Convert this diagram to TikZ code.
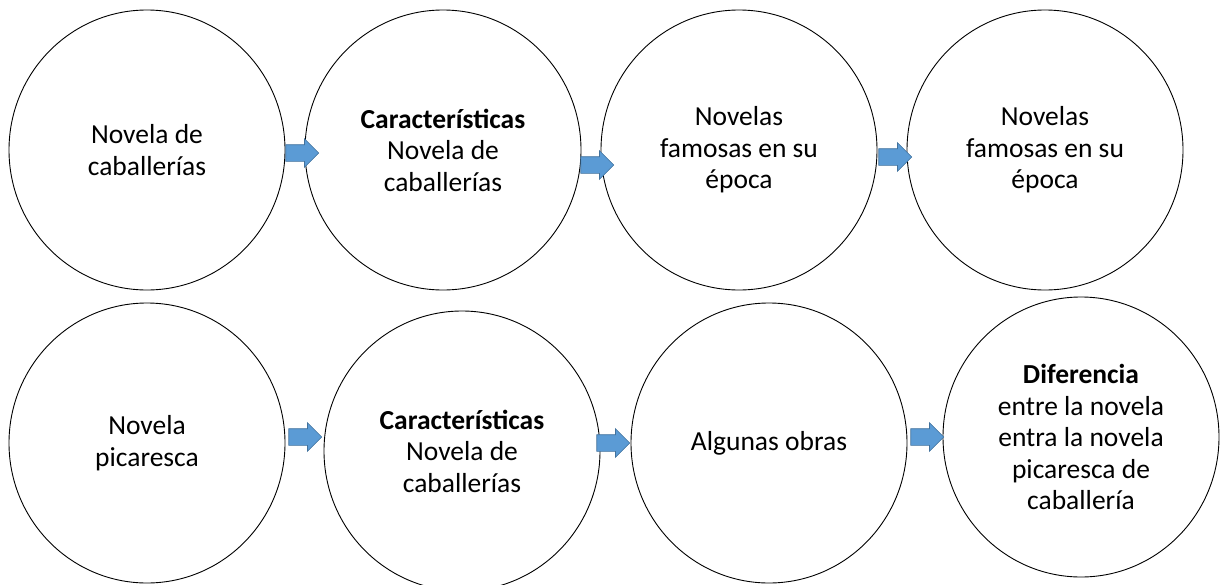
\documentclass[tikz,border=0pt]{standalone}
\usepackage{fontspec}
\setmainfont{Carlito}
\usetikzlibrary{shapes.geometric, shapes.arrows, calc}

\definecolor{flechaazul}{HTML}{5B9BD5}
\definecolor{bordeazul}{HTML}{41719C}

\begin{document}
\begin{tikzpicture}[%
        x = 1pt, y = -1pt,
        bola/.style = {%
            ellipse, draw, line width = 0.9pt,
            minimum width = 276pt, minimum height = 280pt,
            inner sep = 0pt, align = center,
            font = \fontsize{27.5}{31.5}\selectfont
        },
        flecha/.style = {%
            single arrow, draw = bordeazul, fill = flechaazul,
            line width = 0.6pt, inner xsep = 0pt, inner ysep = 8pt,
            minimum height = 33pt,
            single arrow head extend = 6pt, anchor = tail
        }
    ]

        % Fix the page to the size of the reference.
        \useasboundingbox (0,0) rectangle (1224,584);

        % Upper row of ellipses.
        \node[bola] (cab)   at (147,150)  {Novela de\\caballerías};
        \node[bola] (carA)  at (443,150)  {\textbf{Características}\\Novela de\\caballerías};
        \node[bola] (famA)  at (739,150)  {Novelas\\famosas en su\\época};
        \node[bola] (famB)  at (1045,150) {Novelas\\famosas en su\\época};

        % Lower row of ellipses.
        \node[bola] (pic)   at (147,443)  {Novela\\picaresca};
        \node[bola] (carB)  at (462,451)  {\textbf{Características}\\Novela de\\caballerías};
        \node[bola] (obras) at (769,443)  {Algunas obras};
        \node[bola] (dif)   at (1081,437) {\textbf{Diferencia}\\entre la novela\\entra la novela\\picaresca de\\caballería};

        % Block arrows, each starting at the right side of an ellipse.
        \foreach \a/\b/\dx/\dy in {cab/fA/0/3, carA/fB/-1/15, famA/fC/1/7,
                                   pic/fD/3/-6, carB/fE/-4/-8, obras/fF/3/-6}{%
            \node[flecha] (\b) at ($(\a.east) + (\dx,\dy)$) {};
        }
    \end{tikzpicture}
\end{document}
